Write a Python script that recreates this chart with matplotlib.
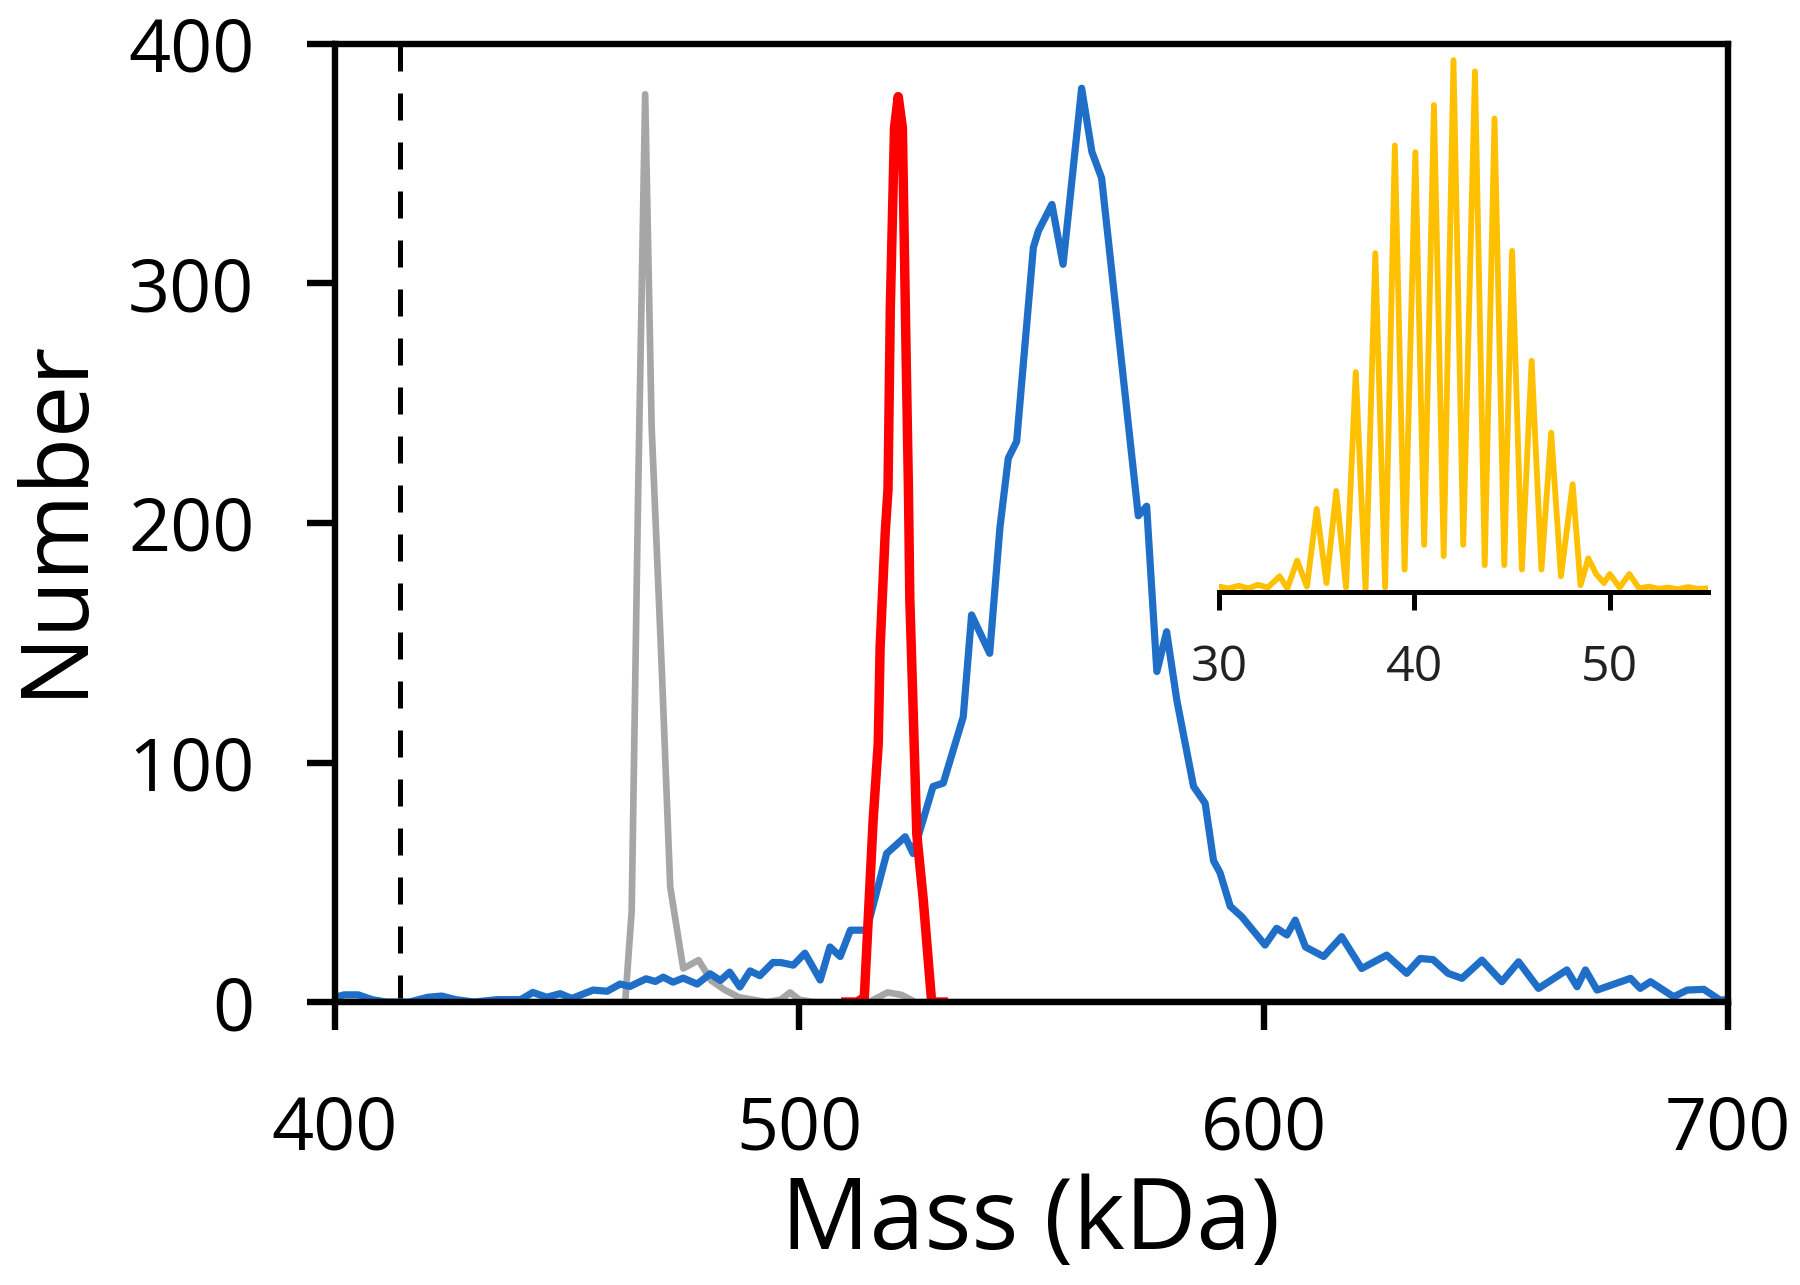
import matplotlib
matplotlib.use("Agg")
import matplotlib.pyplot as plt

plt.rcParams['font.family'] = ['Open Sans', 'DejaVu Sans']

# ---------------- data ----------------
blue_mass = [400, 402, 405, 408, 411, 416, 420, 423, 426, 430, 435, 440, 442.6, 445.6,
             448.5, 451, 455.6, 458.6, 461.4, 463.5, 467, 469, 470.7, 472.8, 475, 478,
             480.8, 483, 485, 487.2, 489.4, 491.5, 494.3, 496, 498.7, 501.2, 504.5,
             506.6, 508.8, 511, 514.5, 518.8, 522.8, 524.5, 528.8, 531, 535.3, 537.1,
             541, 543.2, 545, 546.8, 550.4, 551.5, 554.4, 556.8, 560.8, 563, 565.1,
             573, 574.8, 577, 579.1, 581.3, 584.9, 587.4, 589.2, 590.6, 592.8, 595.3,
             600.3, 602.8, 605, 606.8, 609, 612.9, 616.8, 621.1, 626.5, 630.8, 633.7,
             636.5, 639.7, 642.7, 647, 651.3, 654.9, 659.2, 665.3, 667.5, 669.3, 671.8,
             679, 681.1, 683.3, 688.3, 691.2, 694.8, 698.3, 700]
blue_count = [2, 3, 3, 1, 0, 0, 2, 2.5, 1, 0, 1, 1, 4, 2,
              3.5, 1.5, 5, 4.5, 7.5, 6.5, 9.7, 8.6, 10.4, 8.3, 10, 7.5,
              11.8, 9, 12.5, 6.3, 13, 11, 16.5, 16.5, 15.4, 20.4, 9.2,
              23, 19, 30, 30, 62, 69, 62, 90, 91.4, 119, 161.6,
              145.6, 198, 227, 234, 315, 322, 333, 308, 381.5, 355, 344,
              203, 207, 138, 154.6, 126, 90, 83, 59, 54, 40, 35.6,
              23.8, 30.8, 28, 34.2, 23, 19, 27.3, 14, 19.6, 12, 18.2,
              17.7, 12, 9.9, 17.5, 8.5, 16.8, 5.7, 13.4, 6.4, 13.4, 5,
              9.9, 5.7, 8.5, 2.2, 5, 5.3, 0.8, 1]

gray_mass = [400, 462.5, 463.9, 465.3, 466.8, 468.2, 470.4, 472.2, 475, 478.3, 481,
             484, 487, 490, 493, 496, 498, 500, 503, 515, 519, 522, 525, 700]
gray_count = [0, 0, 38, 214, 379, 240, 138, 48, 14, 17.5, 9,
              5, 2, 1, 0, 1, 4, 1, 0, 0, 4, 3, 0, 0]

red_mass = [510, 512.5, 514, 515.9, 517.0, 517.4, 518.5, 519.1, 519.6, 520.5, 521.3,
            522.2, 523.0, 523.5, 523.8, 524.5, 525.3, 526.7, 528.5, 531]
red_count = [0, 0, 2, 76, 108, 148, 196, 214, 290, 365, 378,
             365, 270, 214, 168, 123, 70, 42.6, 0, 0]

cutoff_mass = 414

inset_mass = [30.0, 30.5, 31.0, 31.5, 32.0, 32.5, 33.1, 33.5, 34.0, 34.5, 35.0, 35.5,
              36.0, 36.5, 37.0, 37.5, 38.0, 38.5, 39.0, 39.5, 40.05, 40.5, 41.0, 41.5,
              42.0, 42.5, 43.1, 43.6, 44.1, 44.6, 45.0, 45.5, 46.0, 46.5, 47.0, 47.5,
              48.1, 48.5, 48.9, 49.3, 49.7, 50.0, 50.5, 51.0, 51.5, 52.0, 52.5, 53.0,
              53.5, 54.0, 54.5, 55.0]
inset_count = [12, 8, 14, 8, 16, 10, 35, 8, 70, 12, 185, 20,
               225, 10, 490, 5, 755, 10, 995, 50, 980, 105, 1085, 80,
               1185, 105, 1160, 60, 1055, 60, 760, 50, 515, 50, 355, 35,
               240, 15, 75, 40, 20, 40, 10, 40, 8, 12, 7, 10,
               6, 11, 7, 8]

x_ticks = [400, 500, 600, 700]
y_ticks = [0, 100, 200, 300, 400]
inset_ticks = [30, 40, 50]

# ---------------- figure ----------------
fig = plt.figure(figsize=(18, 12.85), dpi=100)
ax = fig.add_axes([0.1861, 0.2202, 0.7739, 0.7456])

lw_px = 100 / 72.0
ax.plot(gray_mass, gray_count, color='#A6A6A6', lw=4.8, solid_joinstyle='round', zorder=2)
ax.plot(blue_mass, blue_count, color='#1F6FC8', lw=5.2, solid_joinstyle='round', zorder=3)
ax.plot(red_mass, red_count, color='#FF0000', lw=6.8, solid_joinstyle='round', zorder=4)
dash_lw = 3.6
ax.plot([cutoff_mass, cutoff_mass], [0, 400], color='black', lw=dash_lw,
        dashes=(27 / lw_px / dash_lw, 22 / lw_px / dash_lw), zorder=1)

ax.set_xlim(400, 700)
ax.set_ylim(0, 400)
ax.set_xticks(x_ticks)
ax.set_yticks(y_ticks)
for s in ax.spines.values():
    s.set_linewidth(4.6)
    s.set_color('black')
    s.set_zorder(5)
ax.tick_params(axis='both', direction='out', length=20, width=4.6, color='black',
               labelsize=53, labelcolor='black')
ax.tick_params(axis='x', pad=46)
ax.tick_params(axis='y', pad=38)

fig.text(55 / 1800, 1 - 517 / 1285, 'Number', rotation=90, ha='center', va='center',
         fontsize=67, color='black')
fig.text(1031 / 1800, 0.028, 'Mass (kDa)', ha='center', va='baseline',
         fontsize=71, color='black')

# ---------------- inset ----------------
iax = fig.add_axes([1219 / 1800, 1 - 592 / 1285, 488.5 / 1800, 561 / 1285])
iax.patch.set_alpha(0)
iax.plot(inset_mass, inset_count, color='#FFC000', lw=4.2, solid_joinstyle='round')
iax.set_xlim(30, 55)
iax.set_ylim(0, 1250)
for k in ['left', 'right', 'top']:
    iax.spines[k].set_visible(False)
iax.spines['bottom'].set_linewidth(3.6)
iax.spines['bottom'].set_zorder(5)
iax.set_yticks([])
iax.set_xticks(inset_ticks)
iax.tick_params(axis='x', direction='out', length=13, width=3.6, labelsize=36,
                labelcolor='#222222', pad=24)

fig.savefig('out.png', dpi=100)
